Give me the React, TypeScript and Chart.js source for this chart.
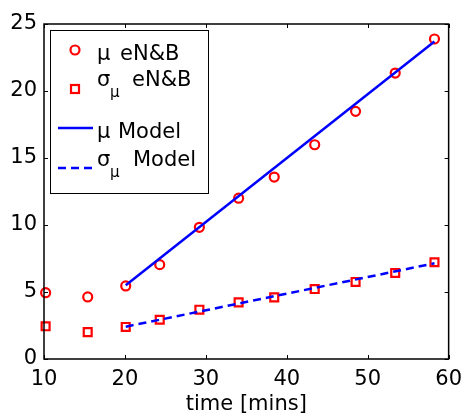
import React, { useEffect, useRef } from 'react';
import { Chart, registerables } from 'chart.js';

Chart.register(...registerables);

const timeMins = [10.2, 15.4, 20.1, 24.3, 29.2, 34.05, 38.45, 43.45, 48.5, 53.4, 58.25];
const muENB = [4.95, 4.63, 5.45, 7.04, 9.83, 12.0, 13.58, 15.99, 18.48, 21.34, 23.88];
const sigmaENB = [2.44, 2.01, 2.39, 2.93, 3.68, 4.23, 4.6, 5.22, 5.75, 6.42, 7.22];
const modelTime = [20.1, 58.25];
const muModel = [5.5, 23.7];
const sigmaModel = [2.41, 7.14];
const xTicks = [10, 20, 30, 40, 50, 60];
const yTicks = [0, 5, 10, 15, 20, 25];

const FONT = '"DejaVu Sans", "Liberation Sans", Arial, sans-serif';
const RED = '#ff0000';
const BLUE = '#0000ff';

const framePlugin = {
  id: 'frame',
  afterDraw(chart: any) {
    const { ctx, chartArea, scales } = chart;
    const { left, top, right, bottom } = chartArea;
    ctx.save();
    ctx.strokeStyle = '#000';
    ctx.lineWidth = 1.5;
    ctx.strokeRect(left, top, right - left, bottom - top);
    ctx.lineWidth = 1;
    ctx.beginPath();
    xTicks.forEach((v) => {
      const px = Math.round(scales.x.getPixelForValue(v)) + 0.5;
      ctx.moveTo(px, bottom);
      ctx.lineTo(px, bottom - 4);
      ctx.moveTo(px, top);
      ctx.lineTo(px, top + 4);
    });
    yTicks.forEach((v) => {
      const py = Math.round(scales.y.getPixelForValue(v)) + 0.5;
      ctx.moveTo(left, py);
      ctx.lineTo(left + 4, py);
      ctx.moveTo(right, py);
      ctx.lineTo(right - 4, py);
    });
    ctx.stroke();
    ctx.restore();
  },
};

const legendPlugin = {
  id: 'matlabLegend',
  afterDraw(chart: any) {
    const ctx = chart.ctx;
    ctx.save();
    ctx.fillStyle = '#fff';
    ctx.strokeStyle = '#000';
    ctx.lineWidth = 1;
    ctx.fillRect(50.5, 30.5, 158, 163);
    ctx.strokeRect(50.5, 30.5, 158, 163);

    const big = `21px ${FONT}`;
    const small = `15px ${FONT}`;
    ctx.fillStyle = '#000';
    ctx.textBaseline = 'alphabetic';
    ctx.textAlign = 'left';

    // entry 1: circle
    ctx.strokeStyle = RED;
    ctx.lineWidth = 2.2;
    ctx.beginPath();
    ctx.arc(75, 50, 4.5, 0, Math.PI * 2);
    ctx.stroke();
    ctx.font = big;
    ctx.fillText('μ', 97, 60);
    ctx.fillText('eN&B', 120, 60);

    // entry 2: square
    ctx.strokeRect(71, 85, 8, 8);
    ctx.font = big;
    ctx.fillText('σ', 97, 86);
    ctx.font = small;
    ctx.fillText('μ', 110, 97);
    ctx.font = big;
    ctx.fillText('eN&B', 132, 86);

    // entry 3: solid line
    ctx.strokeStyle = BLUE;
    ctx.lineWidth = 2.5;
    ctx.beginPath();
    ctx.moveTo(58, 128);
    ctx.lineTo(93, 128);
    ctx.stroke();
    ctx.font = big;
    ctx.fillText('μ', 97, 138);
    ctx.fillText('Model', 118, 138);

    // entry 4: dashed line
    ctx.setLineDash([8, 5]);
    ctx.beginPath();
    ctx.moveTo(58, 168);
    ctx.lineTo(93, 168);
    ctx.stroke();
    ctx.setLineDash([]);
    ctx.font = big;
    ctx.fillText('σ', 97, 166);
    ctx.font = small;
    ctx.fillText('μ', 110, 177);
    ctx.font = big;
    ctx.fillText('Model', 133, 166);
    ctx.restore();
  },
};

export default function App() {
  const ref = useRef<HTMLCanvasElement>(null);
  useEffect(() => {
    document.body.style.margin = '0';
    const canvas = ref.current!;
    const chart = new Chart(canvas, {
      type: 'scatter',
      data: {
        datasets: [
          {
            label: 'μ eN&B',
            data: timeMins.map((t, i) => ({ x: t, y: muENB[i] })),
            pointStyle: 'circle',
            pointRadius: 4.5,
            pointBorderWidth: 2.2,
            borderColor: RED,
            backgroundColor: 'rgba(0,0,0,0)',
            showLine: false,
            clip: false,
            order: 2,
          },
          {
            label: 'σμ eN&B',
            data: timeMins.map((t, i) => ({ x: t, y: sigmaENB[i] })),
            pointStyle: 'rect',
            pointRadius: 5.6,
            pointBorderWidth: 2.2,
            borderColor: RED,
            backgroundColor: 'rgba(0,0,0,0)',
            showLine: false,
            clip: false,
            order: 2,
          },
          {
            label: 'μ Model',
            data: modelTime.map((t, i) => ({ x: t, y: muModel[i] })),
            showLine: true,
            borderColor: BLUE,
            borderWidth: 2.5,
            pointRadius: 0,
            clip: false,
            order: 1,
          },
          {
            label: 'σμ Model',
            data: modelTime.map((t, i) => ({ x: t, y: sigmaModel[i] })),
            showLine: true,
            borderColor: BLUE,
            borderWidth: 2.5,
            borderDash: [8, 5],
            pointRadius: 0,
            clip: false,
            order: 1,
          },
        ],
      },
      options: {
        responsive: false,
        animation: false,
        layout: { padding: { top: 24, right: 17, left: 0, bottom: 0 } },
        plugins: { legend: { display: false }, tooltip: { enabled: false } },
        scales: {
          x: {
            type: 'linear',
            min: 10,
            max: 60,
            afterBuildTicks: (s: any) => {
              s.ticks = xTicks.map((v) => ({ value: v }));
            },
            grid: { display: false, drawTicks: false },
            border: { display: false },
            ticks: {
              color: '#000',
              font: { family: FONT, size: 21 },
              padding: 8,
              maxRotation: 0,
              autoSkip: false,
            },
            title: {
              display: true,
              text: 'time [mins]',
              color: '#000',
              font: { family: FONT, size: 21 },
              padding: { top: 0, bottom: 0 },
            },
            afterFit: (s: any) => {
              s.height = 58;
            },
          },
          y: {
            type: 'linear',
            min: 0,
            max: 25,
            afterBuildTicks: (s: any) => {
              s.ticks = yTicks.map((v) => ({ value: v }));
            },
            grid: { display: false, drawTicks: false },
            border: { display: false },
            ticks: {
              color: '#000',
              font: { family: FONT, size: 21 },
              padding: 7,
              autoSkip: false,
            },
            afterFit: (s: any) => {
              s.width = 44;
            },
          },
        },
      } as any,
      plugins: [framePlugin, legendPlugin],
    });
    return () => chart.destroy();
  }, []);
  return <canvas ref={ref} width={470} height={417} style={{ display: 'block' }} />;
}
